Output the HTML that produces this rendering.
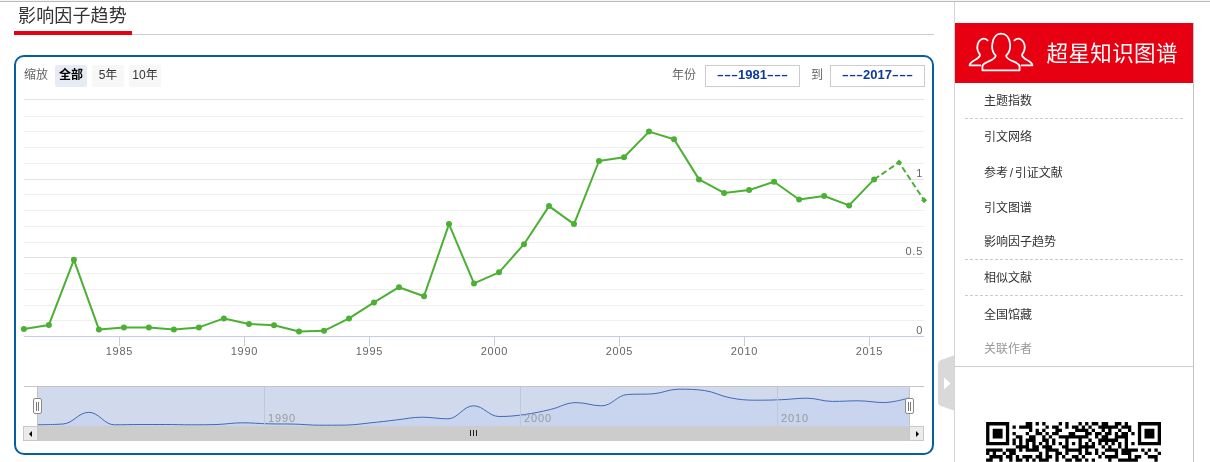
<!DOCTYPE html>
<html lang="zh-CN">
<head>
<meta charset="utf-8">
<title>影响因子趋势</title>
<style>
html,body{margin:0;padding:0;background:#fff;}
body{width:1210px;height:462px;overflow:hidden;position:relative;font-family:"Liberation Sans","Noto Sans CJK SC",sans-serif;color:#333;}
.abs{position:absolute;}
#topline{left:0;top:0;width:1210px;height:1px;background:#bbb;border-top:1px solid #f5f5f5;}
#title{left:18px;top:2px;letter-spacing:0.15px;font-size:18px;line-height:28px;color:#333;white-space:nowrap;}
#redbar{left:14px;top:31px;width:118px;height:4px;background:#e60012;}
#grayline{left:132px;top:34px;width:802px;height:1px;background:#ccc;}
#box{left:14px;top:55px;width:916px;height:396px;border:2px solid #055fa0;border-radius:10px;}
#chart{left:0;top:0;}
.lbl{font-size:12px;line-height:21px;color:#666;white-space:nowrap;}
.btn{top:65px;width:32px;height:22px;line-height:21px;font-size:12px;text-align:center;background:#f7f7f7;color:#333;border-radius:2px;white-space:nowrap;}
.btn.sel{background:#e7ebf5;font-weight:bold;color:#000;}
.inp{top:65px;height:20px;line-height:17px;border:1px solid #ccc;font-size:13px;font-weight:bold;color:#0f3a9a;text-align:center;background:#fff;white-space:nowrap;}
.ds{display:inline-block;transform:scaleX(1.94);margin:0 4.7px;font-weight:bold;font-size:11px;position:relative;top:-1px;}
#side{left:954px;top:2px;width:256px;height:460px;border-left:1px solid #d4d4d4;}
#sideR{left:1193px;top:23px;width:1px;height:439px;background:#c4c4c4;}
#red{left:955px;top:23px;width:238px;height:59.5px;background:#e60012;}
#logotxt{left:1046.5px;top:37.7px;font-size:21.5px;line-height:32px;color:#fff;font-weight:400;white-space:nowrap;letter-spacing:0.4px;}
.mi{left:984px;font-size:12px;line-height:20px;color:#333;white-space:nowrap;}
.dash{left:965px;width:218px;height:1px;background:repeating-linear-gradient(90deg,#ccc 0,#ccc 3px,transparent 3px,transparent 5px);}
#hline{left:955px;top:366px;width:239px;height:1px;background:#ccc;}
.ax{font-family:"Liberation Sans",sans-serif;font-size:11px;fill:#666;letter-spacing:0.75px;}
.nl{font-family:"Liberation Sans",sans-serif;font-size:11px;fill:#999;letter-spacing:0.9px;}
</style>
</head>
<body>
<div class="abs" id="topline"></div>
<div class="abs" id="title">影响因子趋势</div>
<div class="abs" id="grayline"></div>
<div class="abs" id="redbar"></div>
<div class="abs" id="box"></div>

<div class="abs lbl" style="left:24px;top:65px;">缩放</div>
<div class="abs btn sel" style="left:55px;">全部</div>
<div class="abs btn" style="left:92px;">5年</div>
<div class="abs btn" style="left:129px;">10年</div>
<div class="abs lbl" style="left:672px;top:65px;">年份</div>
<div class="abs inp" style="left:705px;width:93px;"><span class="ds">---</span>1981<span class="ds">---</span></div>
<div class="abs lbl" style="left:811px;top:65px;">到</div>
<div class="abs inp" style="left:830px;width:93px;"><span class="ds">---</span>2017<span class="ds">---</span></div>

<svg class="abs" id="chart" width="950" height="462" viewBox="0 0 950 462">
<g shape-rendering="crispEdges">
<path d="M24 99.5H924" stroke="#e2e2e2" stroke-width="1"/>
<path d="M24 116.5H924" stroke="#efefef" stroke-width="1"/>
<path d="M24 131.5H924" stroke="#efefef" stroke-width="1"/>
<path d="M24 147.5H924" stroke="#efefef" stroke-width="1"/>
<path d="M24 163.5H924" stroke="#efefef" stroke-width="1"/>
<path d="M24 179.5H924" stroke="#e2e2e2" stroke-width="1"/>
<path d="M24 194.5H924" stroke="#efefef" stroke-width="1"/>
<path d="M24 210.5H924" stroke="#efefef" stroke-width="1"/>
<path d="M24 226.5H924" stroke="#efefef" stroke-width="1"/>
<path d="M24 242.5H924" stroke="#efefef" stroke-width="1"/>
<path d="M24 257.5H924" stroke="#e2e2e2" stroke-width="1"/>
<path d="M24 273.5H924" stroke="#efefef" stroke-width="1"/>
<path d="M24 289.5H924" stroke="#efefef" stroke-width="1"/>
<path d="M24 305.5H924" stroke="#efefef" stroke-width="1"/>
<path d="M24 320.5H924" stroke="#efefef" stroke-width="1"/>

<path d="M24 336.5H924" stroke="#c3cde6" stroke-width="1"/>
</g>
<path d="M119.5 336V346" stroke="#c0d0e0" stroke-width="1"/>
<text x="119.5" y="355" text-anchor="middle" class="ax">1985</text>
<path d="M244.5 336V346" stroke="#c0d0e0" stroke-width="1"/>
<text x="244.5" y="355" text-anchor="middle" class="ax">1990</text>
<path d="M369.5 336V346" stroke="#c0d0e0" stroke-width="1"/>
<text x="369.5" y="355" text-anchor="middle" class="ax">1995</text>
<path d="M494.5 336V346" stroke="#c0d0e0" stroke-width="1"/>
<text x="494.5" y="355" text-anchor="middle" class="ax">2000</text>
<path d="M619.5 336V346" stroke="#c0d0e0" stroke-width="1"/>
<text x="619.5" y="355" text-anchor="middle" class="ax">2005</text>
<path d="M744.5 336V346" stroke="#c0d0e0" stroke-width="1"/>
<text x="744.5" y="355" text-anchor="middle" class="ax">2010</text>
<path d="M869.5 336V346" stroke="#c0d0e0" stroke-width="1"/>
<text x="869.5" y="355" text-anchor="middle" class="ax">2015</text>

<text x="923" y="177" text-anchor="end" class="ax">1</text>
<text x="923" y="255" text-anchor="end" class="ax">0.5</text>
<text x="923" y="334" text-anchor="end" class="ax">0</text>
<path d="M23.9 329.0 L48.9 324.9 L73.9 259.8 L98.9 329.4 L123.9 327.4 L148.9 327.4 L173.9 329.4 L198.9 327.4 L223.9 318.4 L249.0 323.9 L274.0 325.3 L299.0 331.5 L324.0 330.8 L349.0 318.4 L374.0 302.4 L399.0 287.2 L424.0 296.2 L449.0 224.1 L474.0 283.4 L499.0 272.3 L524.0 244.2 L549.0 206.1 L574.0 224.1 L599.0 161.0 L624.0 157.2 L649.0 131.6 L674.0 139.2 L699.0 179.4 L724.1 192.9 L749.1 190.1 L774.1 181.8 L799.1 199.5 L824.1 196.0 L849.1 205.4 L874.1 179.4" fill="none" stroke="#4cb034" stroke-width="2" stroke-linejoin="round" stroke-linecap="round"/>
<path d="M874.1 179.4 L899.1 162.4 L924.1 200.2" fill="none" stroke="#4cb034" stroke-width="2" stroke-dasharray="6 3" stroke-linejoin="round"/>
<circle cx="23.9" cy="329.0" r="3" fill="#4cb034"/>
<circle cx="48.9" cy="324.9" r="3" fill="#4cb034"/>
<circle cx="73.9" cy="259.8" r="3" fill="#4cb034"/>
<circle cx="98.9" cy="329.4" r="3" fill="#4cb034"/>
<circle cx="123.9" cy="327.4" r="3" fill="#4cb034"/>
<circle cx="148.9" cy="327.4" r="3" fill="#4cb034"/>
<circle cx="173.9" cy="329.4" r="3" fill="#4cb034"/>
<circle cx="198.9" cy="327.4" r="3" fill="#4cb034"/>
<circle cx="223.9" cy="318.4" r="3" fill="#4cb034"/>
<circle cx="249.0" cy="323.9" r="3" fill="#4cb034"/>
<circle cx="274.0" cy="325.3" r="3" fill="#4cb034"/>
<circle cx="299.0" cy="331.5" r="3" fill="#4cb034"/>
<circle cx="324.0" cy="330.8" r="3" fill="#4cb034"/>
<circle cx="349.0" cy="318.4" r="3" fill="#4cb034"/>
<circle cx="374.0" cy="302.4" r="3" fill="#4cb034"/>
<circle cx="399.0" cy="287.2" r="3" fill="#4cb034"/>
<circle cx="424.0" cy="296.2" r="3" fill="#4cb034"/>
<circle cx="449.0" cy="224.1" r="3" fill="#4cb034"/>
<circle cx="474.0" cy="283.4" r="3" fill="#4cb034"/>
<circle cx="499.0" cy="272.3" r="3" fill="#4cb034"/>
<circle cx="524.0" cy="244.2" r="3" fill="#4cb034"/>
<circle cx="549.0" cy="206.1" r="3" fill="#4cb034"/>
<circle cx="574.0" cy="224.1" r="3" fill="#4cb034"/>
<circle cx="599.0" cy="161.0" r="3" fill="#4cb034"/>
<circle cx="624.0" cy="157.2" r="3" fill="#4cb034"/>
<circle cx="649.0" cy="131.6" r="3" fill="#4cb034"/>
<circle cx="674.0" cy="139.2" r="3" fill="#4cb034"/>
<circle cx="699.0" cy="179.4" r="3" fill="#4cb034"/>
<circle cx="724.1" cy="192.9" r="3" fill="#4cb034"/>
<circle cx="749.1" cy="190.1" r="3" fill="#4cb034"/>
<circle cx="774.1" cy="181.8" r="3" fill="#4cb034"/>
<circle cx="799.1" cy="199.5" r="3" fill="#4cb034"/>
<circle cx="824.1" cy="196.0" r="3" fill="#4cb034"/>
<circle cx="849.1" cy="205.4" r="3" fill="#4cb034"/>
<circle cx="874.1" cy="179.4" r="3" fill="#4cb034"/>
<path d="M899.1 159.4l3 3l-3 3l-3 -3z" fill="#4cb034"/>
<path d="M924.1 197.2l3 3l-3 3l-3 -3z" fill="#4cb034"/>

<!-- navigator -->
<rect x="37.5" y="386.5" width="872" height="39.5" fill="#d1daed"/>
<path d="M37.5 424.7 C37.5 424.7 52.9 424.7 63.1 424.0 C73.4 423.3 78.5 412.3 88.8 412.3 C99.1 412.3 104.2 424.8 114.4 424.8 C124.7 424.8 129.8 424.5 140.1 424.5 C150.3 424.5 155.5 424.5 165.7 424.5 C176.0 424.5 181.1 424.8 191.4 424.8 C201.6 424.8 206.8 424.8 217.0 424.5 C227.3 424.1 232.4 422.8 242.7 422.8 C252.9 422.8 258.1 423.6 268.3 423.8 C278.6 424.1 283.7 423.8 294.0 424.1 C304.2 424.3 309.4 425.2 319.6 425.2 C329.9 425.2 335.0 425.2 345.3 425.1 C355.5 424.9 360.7 423.9 370.9 422.8 C381.2 421.8 386.3 421.1 396.6 419.9 C406.8 418.8 411.9 417.2 422.2 417.2 C432.5 417.2 437.6 418.8 447.9 418.8 C458.1 418.8 463.2 405.8 473.5 405.8 C483.8 405.8 488.9 416.5 499.1 416.5 C509.4 416.5 514.5 415.9 524.8 414.5 C535.1 413.1 540.2 411.8 550.4 409.5 C560.7 407.1 565.8 402.6 576.1 402.6 C586.3 402.6 591.5 405.8 601.7 405.8 C612.0 405.8 617.1 395.2 627.4 394.5 C637.6 393.8 642.8 394.5 653.0 393.8 C663.3 393.1 668.4 389.2 678.7 389.2 C688.9 389.2 694.1 389.2 704.3 390.5 C714.6 391.9 719.7 395.8 730.0 397.8 C740.2 399.7 745.4 400.2 755.6 400.2 C765.9 400.2 771.0 400.1 781.3 399.7 C791.5 399.3 796.7 398.2 806.9 398.2 C817.2 398.2 822.3 401.4 832.6 401.4 C842.8 401.4 847.9 400.8 858.2 400.8 C868.5 400.8 873.6 402.5 883.9 402.5 C894.1 402.5 909.5 397.8 909.5 397.8 L909.5 426 L37.5 426 Z" fill="#c9d5ef"/>
<path d="M37.5 424.7 C37.5 424.7 52.9 424.7 63.1 424.0 C73.4 423.3 78.5 412.3 88.8 412.3 C99.1 412.3 104.2 424.8 114.4 424.8 C124.7 424.8 129.8 424.5 140.1 424.5 C150.3 424.5 155.5 424.5 165.7 424.5 C176.0 424.5 181.1 424.8 191.4 424.8 C201.6 424.8 206.8 424.8 217.0 424.5 C227.3 424.1 232.4 422.8 242.7 422.8 C252.9 422.8 258.1 423.6 268.3 423.8 C278.6 424.1 283.7 423.8 294.0 424.1 C304.2 424.3 309.4 425.2 319.6 425.2 C329.9 425.2 335.0 425.2 345.3 425.1 C355.5 424.9 360.7 423.9 370.9 422.8 C381.2 421.8 386.3 421.1 396.6 419.9 C406.8 418.8 411.9 417.2 422.2 417.2 C432.5 417.2 437.6 418.8 447.9 418.8 C458.1 418.8 463.2 405.8 473.5 405.8 C483.8 405.8 488.9 416.5 499.1 416.5 C509.4 416.5 514.5 415.9 524.8 414.5 C535.1 413.1 540.2 411.8 550.4 409.5 C560.7 407.1 565.8 402.6 576.1 402.6 C586.3 402.6 591.5 405.8 601.7 405.8 C612.0 405.8 617.1 395.2 627.4 394.5 C637.6 393.8 642.8 394.5 653.0 393.8 C663.3 393.1 668.4 389.2 678.7 389.2 C688.9 389.2 694.1 389.2 704.3 390.5 C714.6 391.9 719.7 395.8 730.0 397.8 C740.2 399.7 745.4 400.2 755.6 400.2 C765.9 400.2 771.0 400.1 781.3 399.7 C791.5 399.3 796.7 398.2 806.9 398.2 C817.2 398.2 822.3 401.4 832.6 401.4 C842.8 401.4 847.9 400.8 858.2 400.8 C868.5 400.8 873.6 402.5 883.9 402.5 C894.1 402.5 909.5 397.8 909.5 397.8" fill="none" stroke="#4169b5" stroke-width="1"/>
<g shape-rendering="crispEdges">
<path d="M264.5 386V426M520.5 386V426M777.5 386V426" stroke="#c0c8d8" stroke-width="1"/>
<path d="M24 386.5H924" stroke="#c4c4c4" stroke-width="1"/>
<path d="M37.5 386V426M909.5 386V426" stroke="#c4c4c4" stroke-width="1"/>
</g>
<rect x="24" y="426" width="900" height="15" fill="#cccccc"/>
<rect x="23.5" y="426.5" width="14" height="14" fill="#ebebeb" stroke="#c8c8c8" stroke-width="1"/>
<rect x="909.5" y="426.5" width="14" height="14" fill="#ebebeb" stroke="#c8c8c8" stroke-width="1"/>
<text x="268" y="422" class="nl">1990</text>
<text x="524" y="422" class="nl">2000</text>
<text x="781" y="422" class="nl">2010</text>
<path d="M32 431v6l-3 -3z" fill="#000"/>
<path d="M916 431v6l3 -3z" fill="#000"/>
<path d="M470.5 430v6M473.5 430v6M476.5 430v6" stroke="#222" stroke-width="1" shape-rendering="crispEdges"/>
<rect x="33.5" y="398.5" width="8" height="15" rx="1.5" fill="#fff" stroke="#8c8c8c" stroke-width="1"/>
<path d="M36.5 401.5v9M38.5 401.5v9" stroke="#777" stroke-width="1" shape-rendering="crispEdges"/>
<rect x="905.5" y="398.5" width="8" height="15" rx="1.5" fill="#fff" stroke="#8c8c8c" stroke-width="1"/>
<path d="M908.5 401.5v9M910.5 401.5v9" stroke="#777" stroke-width="1" shape-rendering="crispEdges"/>
</svg>

<!-- toggle tab -->
<svg class="abs" style="left:936px;top:350px;" width="20" height="66" viewBox="936 350 20 66">
<path d="M955 355 L941 360 Q938 361 938 364 L938 402 Q938 405 941 406 L955 411 Z" fill="#d9d9d9"/>
<path d="M944 377.5 L950.5 383.5 L944 389.5 Z" fill="#fff"/>
</svg>

<div class="abs" id="side"></div>
<div class="abs" id="sideR"></div>
<div class="abs" id="red"></div>
<svg class="abs" style="left:955px;top:20px;" width="120" height="66" viewBox="0 0 840 462">
<g fill="none" stroke="#fff" stroke-width="12.5" stroke-linejoin="round" stroke-linecap="round">
<path d="M192 352 L192 325 C192 290 280 290 285 250 C262 225 255 200 262 165 C270 110 300 95 322 95 C345 95 378 110 385 165 C390 200 382 225 358 250 C362 290 452 290 452 325 L452 352 Z"/>
<path d="M228 142 C215 130 195 128 180 138 C160 150 150 185 160 215 C165 230 172 235 175 245 C170 280 105 280 102 318 L178 318"/>
<path d="M416 142 C429 130 449 128 464 138 C484 150 494 185 484 215 C479 230 472 235 469 245 C474 280 539 280 542 318 L466 318"/>
</g>
</svg>
<div class="abs" id="logotxt">超星知识图谱</div>

<div class="abs mi" style="top:91px;">主题指数</div>
<div class="abs dash" style="top:118px;"></div>
<div class="abs mi" style="top:127px;">引文网络</div>
<div class="abs mi" style="top:163px;">参考<span style="margin:0 1.6px 0 1.7px">/</span>引证文献</div>
<div class="abs mi" style="top:198px;">引文图谱</div>
<div class="abs mi" style="top:232px;">影响因子趋势</div>
<div class="abs dash" style="top:259px;"></div>
<div class="abs mi" style="top:268px;">相似文献</div>
<div class="abs dash" style="top:295px;"></div>
<div class="abs mi" style="top:305px;">全国馆藏</div>
<div class="abs mi" style="top:339px;color:#999;">关联作者</div>
<div class="abs" id="hline"></div>

<svg class="abs" style="left:980px;top:416px;" width="190" height="46" viewBox="980 416 190 46"><path d="M986.10 422.10h23.10v3.30h-23.10zM1025.70 422.10h6.60v3.30h-6.60zM1035.60 422.10h3.30v3.30h-3.30zM1042.20 422.10h3.30v3.30h-3.30zM1058.70 422.10h3.30v3.30h-3.30zM1065.30 422.10h3.30v3.30h-3.30zM1078.50 422.10h3.30v3.30h-3.30zM1085.10 422.10h3.30v3.30h-3.30zM1091.70 422.10h6.60v3.30h-6.60zM1101.60 422.10h6.60v3.30h-6.60zM1114.80 422.10h6.60v3.30h-6.60zM1124.70 422.10h3.30v3.30h-3.30zM1137.90 422.10h23.10v3.30h-23.10zM986.10 425.40h3.30v3.30h-3.30zM1005.90 425.40h3.30v3.30h-3.30zM1012.50 425.40h3.30v3.30h-3.30zM1019.10 425.40h13.20v3.30h-13.20zM1045.50 425.40h3.30v3.30h-3.30zM1052.10 425.40h6.60v3.30h-6.60zM1065.30 425.40h3.30v3.30h-3.30zM1071.90 425.40h6.60v3.30h-6.60zM1081.80 425.40h3.30v3.30h-3.30zM1088.40 425.40h3.30v3.30h-3.30zM1098.30 425.40h19.80v3.30h-19.80zM1121.40 425.40h9.90v3.30h-9.90zM1137.90 425.40h3.30v3.30h-3.30zM1157.70 425.40h3.30v3.30h-3.30zM986.10 428.70h3.30v3.30h-3.30zM992.70 428.70h9.90v3.30h-9.90zM1005.90 428.70h3.30v3.30h-3.30zM1029.00 428.70h3.30v3.30h-3.30zM1035.60 428.70h3.30v3.30h-3.30zM1042.20 428.70h3.30v3.30h-3.30zM1055.40 428.70h6.60v3.30h-6.60zM1075.20 428.70h13.20v3.30h-13.20zM1091.70 428.70h3.30v3.30h-3.30zM1101.60 428.70h3.30v3.30h-3.30zM1108.20 428.70h3.30v3.30h-3.30zM1118.10 428.70h3.30v3.30h-3.30zM1128.00 428.70h3.30v3.30h-3.30zM1137.90 428.70h3.30v3.30h-3.30zM1144.50 428.70h9.90v3.30h-9.90zM1157.70 428.70h3.30v3.30h-3.30zM986.10 432.00h3.30v3.30h-3.30zM992.70 432.00h9.90v3.30h-9.90zM1005.90 432.00h3.30v3.30h-3.30zM1012.50 432.00h3.30v3.30h-3.30zM1025.70 432.00h3.30v3.30h-3.30zM1035.60 432.00h6.60v3.30h-6.60zM1045.50 432.00h3.30v3.30h-3.30zM1052.10 432.00h6.60v3.30h-6.60zM1068.60 432.00h6.60v3.30h-6.60zM1085.10 432.00h6.60v3.30h-6.60zM1095.00 432.00h6.60v3.30h-6.60zM1104.90 432.00h6.60v3.30h-6.60zM1114.80 432.00h3.30v3.30h-3.30zM1121.40 432.00h6.60v3.30h-6.60zM1131.30 432.00h3.30v3.30h-3.30zM1137.90 432.00h3.30v3.30h-3.30zM1144.50 432.00h9.90v3.30h-9.90zM1157.70 432.00h3.30v3.30h-3.30zM986.10 435.30h3.30v3.30h-3.30zM992.70 435.30h9.90v3.30h-9.90zM1005.90 435.30h3.30v3.30h-3.30zM1015.80 435.30h6.60v3.30h-6.60zM1029.00 435.30h6.60v3.30h-6.60zM1042.20 435.30h3.30v3.30h-3.30zM1048.80 435.30h3.30v3.30h-3.30zM1058.70 435.30h29.70v3.30h-29.70zM1095.00 435.30h3.30v3.30h-3.30zM1101.60 435.30h6.60v3.30h-6.60zM1114.80 435.30h13.20v3.30h-13.20zM1137.90 435.30h3.30v3.30h-3.30zM1144.50 435.30h9.90v3.30h-9.90zM1157.70 435.30h3.30v3.30h-3.30zM986.10 438.60h3.30v3.30h-3.30zM1005.90 438.60h3.30v3.30h-3.30zM1012.50 438.60h3.30v3.30h-3.30zM1019.10 438.60h3.30v3.30h-3.30zM1025.70 438.60h9.90v3.30h-9.90zM1042.20 438.60h6.60v3.30h-6.60zM1052.10 438.60h3.30v3.30h-3.30zM1065.30 438.60h3.30v3.30h-3.30zM1078.50 438.60h3.30v3.30h-3.30zM1088.40 438.60h3.30v3.30h-3.30zM1098.30 438.60h19.80v3.30h-19.80zM1124.70 438.60h3.30v3.30h-3.30zM1137.90 438.60h3.30v3.30h-3.30zM1157.70 438.60h3.30v3.30h-3.30zM986.10 441.90h23.10v3.30h-23.10zM1012.50 441.90h3.30v3.30h-3.30zM1019.10 441.90h3.30v3.30h-3.30zM1025.70 441.90h3.30v3.30h-3.30zM1032.30 441.90h3.30v3.30h-3.30zM1038.90 441.90h3.30v3.30h-3.30zM1045.50 441.90h3.30v3.30h-3.30zM1052.10 441.90h3.30v3.30h-3.30zM1058.70 441.90h3.30v3.30h-3.30zM1065.30 441.90h3.30v3.30h-3.30zM1071.90 441.90h3.30v3.30h-3.30zM1078.50 441.90h3.30v3.30h-3.30zM1085.10 441.90h3.30v3.30h-3.30zM1091.70 441.90h3.30v3.30h-3.30zM1098.30 441.90h3.30v3.30h-3.30zM1104.90 441.90h3.30v3.30h-3.30zM1111.50 441.90h3.30v3.30h-3.30zM1118.10 441.90h3.30v3.30h-3.30zM1124.70 441.90h3.30v3.30h-3.30zM1131.30 441.90h3.30v3.30h-3.30zM1137.90 441.90h23.10v3.30h-23.10zM1015.80 445.20h13.20v3.30h-13.20zM1032.30 445.20h6.60v3.30h-6.60zM1042.20 445.20h9.90v3.30h-9.90zM1062.00 445.20h6.60v3.30h-6.60zM1078.50 445.20h16.50v3.30h-16.50zM1101.60 445.20h3.30v3.30h-3.30zM1108.20 445.20h3.30v3.30h-3.30zM1118.10 445.20h3.30v3.30h-3.30zM1124.70 445.20h3.30v3.30h-3.30zM986.10 448.50h16.50v3.30h-16.50zM1005.90 448.50h9.90v3.30h-9.90zM1019.10 448.50h3.30v3.30h-3.30zM1025.70 448.50h13.20v3.30h-13.20zM1045.50 448.50h13.20v3.30h-13.20zM1065.30 448.50h16.50v3.30h-16.50zM1085.10 448.50h3.30v3.30h-3.30zM1095.00 448.50h3.30v3.30h-3.30zM1104.90 448.50h13.20v3.30h-13.20zM1121.40 448.50h16.50v3.30h-16.50zM1141.20 448.50h3.30v3.30h-3.30zM1147.80 448.50h3.30v3.30h-3.30zM1154.40 448.50h3.30v3.30h-3.30zM986.10 451.80h3.30v3.30h-3.30zM992.70 451.80h3.30v3.30h-3.30zM1002.60 451.80h3.30v3.30h-3.30zM1009.20 451.80h6.60v3.30h-6.60zM1038.90 451.80h3.30v3.30h-3.30zM1045.50 451.80h3.30v3.30h-3.30zM1055.40 451.80h6.60v3.30h-6.60zM1065.30 451.80h3.30v3.30h-3.30zM1078.50 451.80h3.30v3.30h-3.30zM1085.10 451.80h6.60v3.30h-6.60zM1095.00 451.80h3.30v3.30h-3.30zM1101.60 451.80h3.30v3.30h-3.30zM1114.80 451.80h3.30v3.30h-3.30zM1121.40 451.80h9.90v3.30h-9.90zM1144.50 451.80h3.30v3.30h-3.30zM1157.70 451.80h3.30v3.30h-3.30zM989.40 455.10h13.20v3.30h-13.20zM1005.90 455.10h6.60v3.30h-6.60zM1015.80 455.10h3.30v3.30h-3.30zM1022.40 455.10h9.90v3.30h-9.90zM1035.60 455.10h6.60v3.30h-6.60zM1045.50 455.10h6.60v3.30h-6.60zM1055.40 455.10h3.30v3.30h-3.30zM1062.00 455.10h3.30v3.30h-3.30zM1071.90 455.10h6.60v3.30h-6.60zM1081.80 455.10h3.30v3.30h-3.30zM1098.30 455.10h3.30v3.30h-3.30zM1104.90 455.10h13.20v3.30h-13.20zM1128.00 455.10h3.30v3.30h-3.30zM1134.60 455.10h6.60v3.30h-6.60zM1147.80 455.10h9.90v3.30h-9.90zM986.10 458.40h6.60v3.30h-6.60zM999.30 458.40h3.30v3.30h-3.30zM1009.20 458.40h3.30v3.30h-3.30zM1015.80 458.40h6.60v3.30h-6.60zM1025.70 458.40h3.30v3.30h-3.30zM1032.30 458.40h3.30v3.30h-3.30zM1038.90 458.40h9.90v3.30h-9.90zM1055.40 458.40h3.30v3.30h-3.30zM1065.30 458.40h6.60v3.30h-6.60zM1075.20 458.40h6.60v3.30h-6.60zM1085.10 458.40h3.30v3.30h-3.30zM1091.70 458.40h3.30v3.30h-3.30zM1108.20 458.40h3.30v3.30h-3.30zM1118.10 458.40h19.80v3.30h-19.80zM1154.40 458.40h3.30v3.30h-3.30z" fill="#000"/></svg>
</body>
</html>
